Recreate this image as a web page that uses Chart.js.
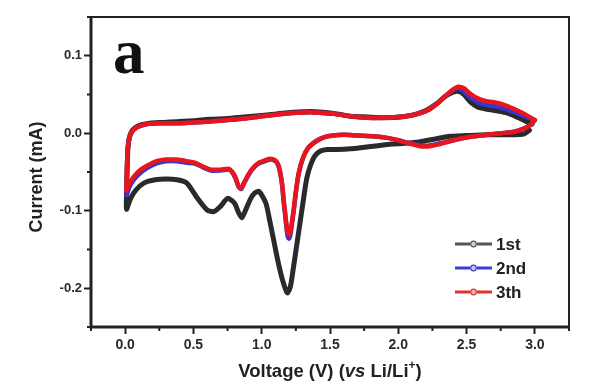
<!DOCTYPE html>
<html>
<head>
<meta charset="utf-8">
<script src="https://cdn.jsdelivr.net/npm/chart.js@4.4.1/dist/chart.umd.min.js"></script>
<style>
html,body{margin:0;padding:0;background:#fff;}
canvas{display:block;}
</style>
</head>
<body>
<canvas id="c" width="600" height="386"></canvas>
<script>
// ---- Data (voltage V vs Li/Li+, current mA) ----
const seriesNames = ["1st", "2nd", "3th"];

// 1st cycle, cathodic sweep then anodic sweep
const cycle1V = [2.96, 2.92, 2.80, 2.65, 2.50, 2.38, 2.25, 2.16, 2.05, 1.95, 1.85, 1.75, 1.65, 1.55, 1.48, 1.43, 1.39, 1.36, 1.33, 1.30, 1.28, 1.25, 1.23, 1.21, 1.19, 1.18, 1.15, 1.12, 1.09, 1.06, 1.03, 0.98, 0.95, 0.92, 0.88, 0.855, 0.83, 0.80, 0.75, 0.70, 0.65, 0.60, 0.53, 0.45, 0.38, 0.30, 0.22, 0.14, 0.08, 0.04, 0.01,
                 0.012, 0.015, 0.02, 0.03, 0.05, 0.08, 0.12, 0.18, 0.28, 0.38, 0.50, 0.62, 0.75, 0.87, 1.00, 1.11, 1.23, 1.36, 1.45, 1.55, 1.65, 1.77, 1.90, 2.02, 2.12, 2.21, 2.28, 2.34, 2.40, 2.44, 2.48, 2.53, 2.58, 2.65, 2.72, 2.80, 2.88, 2.94, 2.98];
const cycle1I = [0.004, -0.001, -0.002, -0.002, -0.003, -0.004, -0.008, -0.011, -0.013, -0.014, -0.016, -0.018, -0.020, -0.021, -0.021, -0.023, -0.029, -0.040, -0.058, -0.092, -0.116, -0.152, -0.176, -0.198, -0.206, -0.204, -0.188, -0.166, -0.140, -0.114, -0.090, -0.075, -0.077, -0.084, -0.100, -0.109, -0.102, -0.090, -0.084, -0.094, -0.101, -0.099, -0.084, -0.064, -0.060, -0.059, -0.060, -0.064, -0.073, -0.084, -0.098,
                 -0.070, -0.045, -0.020, -0.006, 0.003, 0.008, 0.011, 0.013, 0.014, 0.015, 0.016, 0.018, 0.019, 0.021, 0.023, 0.025, 0.027, 0.028, 0.027, 0.025, 0.022, 0.021, 0.020, 0.021, 0.024, 0.030, 0.038, 0.047, 0.053, 0.054, 0.050, 0.040, 0.034, 0.031, 0.029, 0.026, 0.020, 0.015, 0.012];

// 2nd cycle
const cycle2V = [3.00, 2.97, 2.92, 2.85, 2.75, 2.65, 2.55, 2.45, 2.36, 2.28, 2.22, 2.17, 2.12, 2.06, 2.00, 1.92, 1.82, 1.70, 1.60, 1.52, 1.46, 1.40, 1.34, 1.30, 1.27, 1.25, 1.235, 1.22, 1.21, 1.20, 1.19, 1.18, 1.17, 1.16, 1.15, 1.135, 1.12, 1.10, 1.06, 1.01, 0.97, 0.93, 0.90, 0.87, 0.85, 0.83, 0.81, 0.79, 0.76, 0.70, 0.63, 0.57, 0.51, 0.45, 0.38, 0.30, 0.23, 0.16, 0.10, 0.06, 0.03, 0.01,
                 0.012, 0.015, 0.02, 0.03, 0.05, 0.09, 0.16, 0.25, 0.38, 0.50, 0.62, 0.75, 0.87, 1.00, 1.10, 1.22, 1.36, 1.45, 1.53, 1.65, 1.77, 1.89, 2.00, 2.09, 2.16, 2.23, 2.29, 2.34, 2.39, 2.44, 2.48, 2.52, 2.57, 2.63, 2.70, 2.77, 2.84, 2.91, 2.97, 3.00];
const cycle2I = [0.017, 0.011, 0.006, 0.002, 0.000, -0.002, -0.004, -0.007, -0.011, -0.014, -0.016, -0.016, -0.014, -0.012, -0.009, -0.006, -0.004, -0.003, -0.002, -0.003, -0.005, -0.010, -0.019, -0.033, -0.053, -0.077, -0.099, -0.119, -0.131, -0.136, -0.133, -0.120, -0.103, -0.087, -0.068, -0.051, -0.041, -0.036, -0.034, -0.037, -0.040, -0.047, -0.055, -0.065, -0.072, -0.069, -0.059, -0.052, -0.047, -0.048, -0.048, -0.044, -0.039, -0.038, -0.036, -0.036, -0.039, -0.045, -0.053, -0.061, -0.070, -0.080,
                 -0.058, -0.037, -0.019, -0.007, 0.002, 0.008, 0.012, 0.013, 0.013, 0.014, 0.015, 0.017, 0.019, 0.022, 0.024, 0.026, 0.027, 0.026, 0.025, 0.022, 0.020, 0.020, 0.021, 0.023, 0.026, 0.031, 0.039, 0.047, 0.054, 0.058, 0.054, 0.047, 0.041, 0.037, 0.035, 0.032, 0.028, 0.023, 0.019, 0.017];

// 3rd cycle
const cycle3V = [3.00, 2.97, 2.92, 2.85, 2.75, 2.65, 2.55, 2.45, 2.36, 2.28, 2.22, 2.17, 2.12, 2.06, 2.00, 1.92, 1.82, 1.70, 1.60, 1.52, 1.46, 1.40, 1.34, 1.30, 1.27, 1.25, 1.235, 1.22, 1.21, 1.20, 1.19, 1.18, 1.17, 1.16, 1.15, 1.135, 1.12, 1.10, 1.06, 1.01, 0.97, 0.93, 0.90, 0.87, 0.85, 0.83, 0.81, 0.79, 0.76, 0.70, 0.63, 0.57, 0.51, 0.45, 0.38, 0.30, 0.23, 0.16, 0.10, 0.06, 0.03, 0.01,
                 0.012, 0.015, 0.02, 0.03, 0.05, 0.09, 0.16, 0.25, 0.38, 0.50, 0.62, 0.75, 0.87, 1.00, 1.10, 1.22, 1.36, 1.45, 1.53, 1.65, 1.77, 1.89, 2.00, 2.09, 2.16, 2.23, 2.29, 2.34, 2.39, 2.44, 2.48, 2.52, 2.57, 2.63, 2.70, 2.77, 2.84, 2.91, 2.97, 3.00];
const cycle3I = [0.017, 0.011, 0.006, 0.002, 0.000, -0.002, -0.004, -0.007, -0.011, -0.015, -0.017, -0.017, -0.015, -0.012, -0.009, -0.006, -0.004, -0.003, -0.002, -0.003, -0.005, -0.010, -0.019, -0.033, -0.052, -0.075, -0.097, -0.116, -0.127, -0.131, -0.128, -0.116, -0.100, -0.085, -0.066, -0.050, -0.040, -0.035, -0.033, -0.036, -0.039, -0.046, -0.054, -0.064, -0.071, -0.068, -0.058, -0.051, -0.046, -0.047, -0.047, -0.043, -0.038, -0.036, -0.034, -0.034, -0.036, -0.042, -0.049, -0.057, -0.065, -0.074,
                 -0.055, -0.035, -0.018, -0.006, 0.002, 0.008, 0.012, 0.013, 0.013, 0.014, 0.015, 0.017, 0.019, 0.022, 0.024, 0.026, 0.027, 0.026, 0.025, 0.022, 0.020, 0.020, 0.021, 0.023, 0.026, 0.031, 0.039, 0.047, 0.055, 0.060, 0.058, 0.052, 0.046, 0.042, 0.040, 0.037, 0.032, 0.026, 0.020, 0.017];

// Axis ticks
const xTickValues = [0.0, 0.5, 1.0, 1.5, 2.0, 2.5, 3.0];
const xMinorValues = [-0.25, 0.25, 0.75, 1.25, 1.75, 2.25, 2.75, 3.25];
const yTickValues = [-0.2, -0.1, 0.0, 0.1];
const yMinorValues = [-0.25, -0.15, -0.05, 0.05, 0.15];
const xRange = [-0.25, 3.25];
const yRange = [-0.25, 0.15];

const lineColors = ["#2a2a2a", "#3535d0", "#e8161c"];
const lineWidths = [5, 4.5, 4.5];
const legendLine = ["#555555", "#3c3cd8", "#e23030"];
const legendDot = ["#cfcfcf", "#c8c8f0", "#f2b0b0"];

function pts(V, I) { return V.map((v, i) => ({ x: v, y: I[i] })); }

const framePlugin = {
  id: 'frame',
  afterDraw(chart) {
    const ctx = chart.ctx, a = chart.chartArea;
    const xs = chart.scales.x, ys = chart.scales.y;
    ctx.save();
    ctx.strokeStyle = '#222';
    ctx.lineWidth = 2;
    ctx.beginPath();
    ctx.moveTo(a.left, a.top); ctx.lineTo(a.right, a.top); ctx.lineTo(a.right, a.bottom);
    ctx.stroke();
    ctx.lineWidth = 3;
    ctx.beginPath();
    ctx.moveTo(a.left, a.top - 1); ctx.lineTo(a.left, a.bottom); ctx.lineTo(a.right + 1, a.bottom);
    ctx.stroke();
    ctx.lineWidth = 2;
    ctx.beginPath();
    xMinorValues.forEach(v => { const p = xs.getPixelForValue(v); ctx.moveTo(p, a.bottom); ctx.lineTo(p, a.bottom + 4); });
    yMinorValues.forEach(v => { const p = ys.getPixelForValue(v); ctx.moveTo(a.left, p); ctx.lineTo(a.left - 4, p); });
    ctx.stroke();

    ctx.fillStyle = '#111';
    ctx.font = 'bold 63px "Liberation Serif", "DejaVu Serif", serif';
    ctx.textBaseline = 'alphabetic';
    ctx.textAlign = 'left';
    ctx.fillText('a', 113, 73);

    ctx.save();
    ctx.translate(37, 177);
    ctx.rotate(-Math.PI / 2);
    ctx.font = 'bold 18px "Liberation Sans", Arial, sans-serif';
    ctx.textAlign = 'center';
    ctx.textBaseline = 'middle';
    ctx.fillStyle = '#222';
    ctx.fillText('Current (mA)', 0, 0);
    ctx.restore();

    const parts = [
      { t: 'Voltage (V) (', f: 'bold 18.5px "Liberation Sans", Arial, sans-serif', dy: 0 },
      { t: 'vs', f: 'italic bold 18.5px "Liberation Sans", Arial, sans-serif', dy: 0 },
      { t: ' Li/Li', f: 'bold 18.5px "Liberation Sans", Arial, sans-serif', dy: 0 },
      { t: '+', f: 'bold 12px "Liberation Sans", Arial, sans-serif', dy: -8 },
      { t: ')', f: 'bold 18.5px "Liberation Sans", Arial, sans-serif', dy: 0 }
    ];
    let total = 0;
    parts.forEach(p => { ctx.font = p.f; p.w = ctx.measureText(p.t).width; total += p.w; });
    let x0 = (a.left + a.right) / 2 - total / 2;
    ctx.textAlign = 'left';
    ctx.textBaseline = 'alphabetic';
    ctx.fillStyle = '#222';
    parts.forEach(p => { ctx.font = p.f; ctx.fillText(p.t, x0, 377 + p.dy); x0 += p.w; });

    const ly = [244, 268, 292];
    chart.data.datasets.forEach((ds, i) => {
      const y = ly[i];
      ctx.strokeStyle = legendLine[i];
      ctx.lineWidth = 3;
      ctx.beginPath();
      ctx.moveTo(455, y); ctx.lineTo(470, y);
      ctx.moveTo(477, y); ctx.lineTo(492, y);
      ctx.stroke();
      ctx.lineWidth = 1.2;
      ctx.fillStyle = legendDot[i];
      ctx.beginPath(); ctx.arc(473.5, y, 2.8, 0, Math.PI * 2); ctx.fill(); ctx.stroke();
      ctx.fillStyle = '#222';
      ctx.font = 'bold 17px "Liberation Sans", Arial, sans-serif';
      ctx.textBaseline = 'middle';
      ctx.fillText(ds.label, 496, y + 1);
    });
    ctx.restore();
  }
};

const datasets = [
  { label: seriesNames[0], data: pts(cycle1V, cycle1I), borderColor: lineColors[0], borderWidth: lineWidths[0], order: 3 },
  { label: seriesNames[1], data: pts(cycle2V, cycle2I), borderColor: lineColors[1], borderWidth: lineWidths[1], order: 2 },
  { label: seriesNames[2], data: pts(cycle3V, cycle3I), borderColor: lineColors[2], borderWidth: lineWidths[2], order: 1 }
].map(d => Object.assign(d, { showLine: true, pointRadius: 0, tension: 0.25, fill: false, borderCapStyle: 'round', borderJoinStyle: 'round' }));

new Chart(document.getElementById('c'), {
  type: 'scatter',
  data: { datasets },
  options: {
    responsive: false,
    animation: false,
    devicePixelRatio: 1,
    layout: { padding: { top: 17, right: 31, left: 0, bottom: 0 } },
    plugins: { legend: { display: false }, tooltip: { enabled: false } },
    scales: {
      x: {
        type: 'linear', min: xRange[0], max: xRange[1],
        afterBuildTicks: s => { s.ticks = xTickValues.map(v => ({ value: v })); },
        afterFit: s => { s.height = 59; },
        grid: { drawOnChartArea: false, drawTicks: true, tickLength: 7, tickWidth: 2, tickColor: '#222' },
        border: { display: false },
        ticks: { padding: 3, color: '#2a2a2a', font: { family: '"Liberation Sans", Arial, sans-serif', size: 14, weight: 'bold' }, callback: v => Number(v).toFixed(1), maxRotation: 0, autoSkip: false }
      },
      y: {
        type: 'linear', min: yRange[0], max: yRange[1],
        afterBuildTicks: s => { s.ticks = yTickValues.map(v => ({ value: v })); },
        afterFit: s => { s.width = 91; },
        grid: { drawOnChartArea: false, drawTicks: true, tickLength: 7, tickWidth: 2, tickColor: '#222' },
        border: { display: false },
        ticks: { padding: 2, color: '#2a2a2a', font: { family: '"Liberation Sans", Arial, sans-serif', size: 13, weight: 'bold' }, callback: v => Number(v).toFixed(1), autoSkip: false }
      }
    }
  },
  plugins: [framePlugin]
});
</script>
</body>
</html>
